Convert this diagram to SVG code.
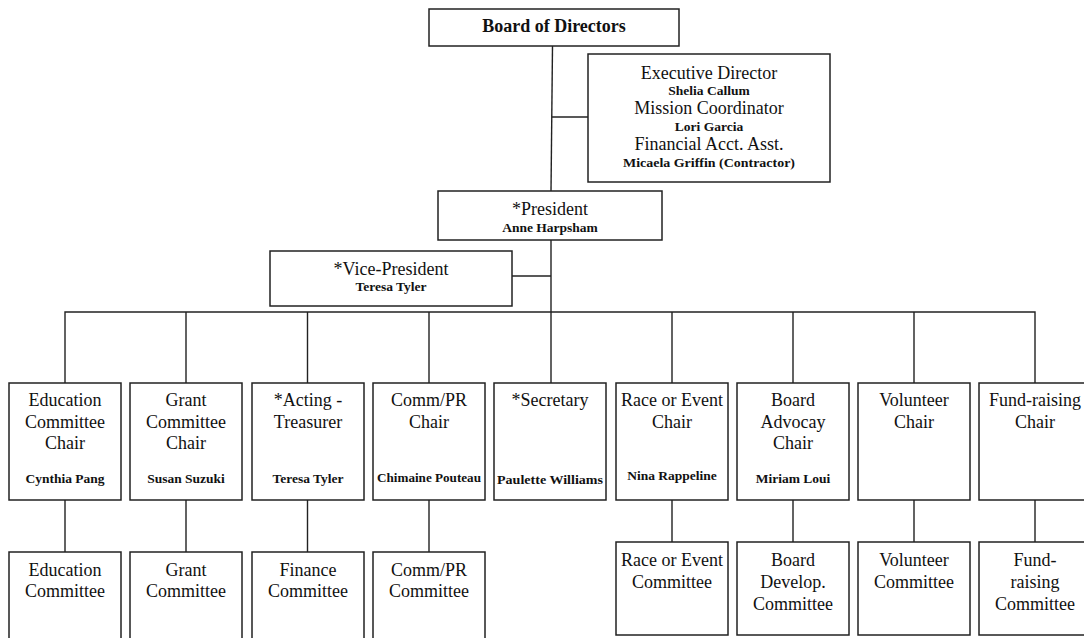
<svg xmlns="http://www.w3.org/2000/svg" width="1084" height="638" viewBox="0 0 1084 638">
<style>
.box{fill:#fff;stroke:#222;stroke-width:1.5}
.ln{stroke:#222;stroke-width:1.4;fill:none}
.t{font-family:"Liberation Serif","Times New Roman",serif;font-size:18px;fill:#111;text-anchor:middle}
.b{font-family:"Liberation Serif","Times New Roman",serif;font-size:13.5px;font-weight:bold;fill:#111;text-anchor:middle}
.h{font-family:"Liberation Serif","Times New Roman",serif;font-size:18px;font-weight:bold;fill:#111;text-anchor:middle}
</style>
<rect width="1084" height="638" fill="#fff"/>
<g id="connectors">
<path class="ln" d="M552.5 46 L551 191"/>
<path class="ln" d="M552 117 H588"/>
<path class="ln" d="M551 240 V312"/>
<path class="ln" d="M512 276 H551"/>
<path class="ln" d="M65 383 V312 H1035 V383"/>
<path class="ln" d="M186 312 V383 M307.5 312 V383 M429 312 V383 M551 312 V383 M672 312 V383 M793 312 V383 M914 312 V383"/>
<path class="ln" d="M65 500 V552 M186 500 V552 M307.5 500 V552 M429 500 V552"/>
<path class="ln" d="M672 500 V542 M793 500 V542 M914 500 V542 M1035 500 V542"/>
</g>
<g id="board"><rect class="box" x="429" y="9" width="250" height="37"/><text class="h" x="554" y="32">Board of Directors</text></g>
<g id="executive"><rect class="box" x="588" y="54" width="242" height="128"/>
<text class="t" x="709" y="79">Executive Director</text>
<text class="b" x="709" y="95">Shelia Callum</text>
<text class="t" x="709" y="114">Mission Coordinator</text>
<text class="b" x="709" y="131">Lori Garcia</text>
<text class="t" x="709" y="150">Financial Acct. Asst.</text>
<text class="b" x="709" y="167" textLength="172" lengthAdjust="spacingAndGlyphs">Micaela Griffin (Contractor)</text></g>
<g id="president"><rect class="box" x="438" y="191" width="224" height="49"/>
<text class="t" x="550" y="215">*President</text><text class="b" x="550" y="232">Anne Harpsham</text></g>
<g id="vice-president"><rect class="box" x="270" y="251" width="242" height="55"/>
<text class="t" x="391" y="275">*Vice-President</text><text class="b" x="391" y="291">Teresa Tyler</text></g>

<g id="chair-education"><rect class="box" x="9" y="383" width="112" height="117"/>
<text class="t" x="65" y="406">Education</text><text class="t" x="65" y="428">Committee</text><text class="t" x="65" y="449">Chair</text><text class="b" x="65" y="483">Cynthia Pang</text></g>
<g id="chair-grant"><rect class="box" x="130" y="383" width="112" height="117"/>
<text class="t" x="186" y="406">Grant</text><text class="t" x="186" y="428">Committee</text><text class="t" x="186" y="449">Chair</text><text class="b" x="186" y="483">Susan Suzuki</text></g>
<g id="chair-treasurer"><rect class="box" x="252" y="383" width="112" height="117"/>
<text class="t" x="308" y="406">*Acting -</text><text class="t" x="308" y="428">Treasurer</text><text class="b" x="308" y="483">Teresa Tyler</text></g>
<g id="chair-commpr"><rect class="box" x="373" y="383" width="112" height="117"/>
<text class="t" x="429" y="406">Comm/PR</text><text class="t" x="429" y="428">Chair</text><text class="b" x="429" y="482" textLength="104" lengthAdjust="spacingAndGlyphs">Chimaine Pouteau</text></g>
<g id="chair-secretary"><rect class="box" x="494" y="383" width="112" height="117"/>
<text class="t" x="550" y="406">*Secretary</text><text class="b" x="550" y="484" textLength="106" lengthAdjust="spacingAndGlyphs">Paulette Williams</text></g>
<g id="chair-race"><rect class="box" x="616" y="383" width="112" height="117"/>
<text class="t" x="672" y="406">Race or Event</text><text class="t" x="672" y="428">Chair</text><text class="b" x="672" y="480">Nina Rappeline</text></g>
<g id="chair-advocacy"><rect class="box" x="737" y="383" width="112" height="117"/>
<text class="t" x="793" y="406">Board</text><text class="t" x="793" y="428">Advocay</text><text class="t" x="793" y="449">Chair</text><text class="b" x="793" y="483">Miriam Loui</text></g>
<g id="chair-volunteer"><rect class="box" x="858" y="383" width="112" height="117"/>
<text class="t" x="914" y="406">Volunteer</text><text class="t" x="914" y="428">Chair</text></g>
<g id="chair-fundraising"><rect class="box" x="979" y="383" width="112" height="117"/>
<text class="t" x="1035" y="406">Fund-raising</text><text class="t" x="1035" y="428">Chair</text></g>

<g id="committee-education"><rect class="box" x="9" y="552" width="112" height="100"/>
<text class="t" x="65" y="576">Education</text><text class="t" x="65" y="597">Committee</text></g>
<g id="committee-grant"><rect class="box" x="130" y="552" width="112" height="100"/>
<text class="t" x="186" y="576">Grant</text><text class="t" x="186" y="597">Committee</text></g>
<g id="committee-finance"><rect class="box" x="252" y="552" width="112" height="100"/>
<text class="t" x="308" y="576">Finance</text><text class="t" x="308" y="597">Committee</text></g>
<g id="committee-commpr"><rect class="box" x="373" y="552" width="112" height="100"/>
<text class="t" x="429" y="576">Comm/PR</text><text class="t" x="429" y="597">Committee</text></g>
<g id="committee-race"><rect class="box" x="616" y="542" width="112" height="93"/>
<text class="t" x="672" y="566">Race or Event</text><text class="t" x="672" y="588">Committee</text></g>
<g id="committee-board"><rect class="box" x="737" y="542" width="112" height="93"/>
<text class="t" x="793" y="566">Board</text><text class="t" x="793" y="588">Develop.</text><text class="t" x="793" y="610">Committee</text></g>
<g id="committee-volunteer"><rect class="box" x="858" y="542" width="112" height="93"/>
<text class="t" x="914" y="566">Volunteer</text><text class="t" x="914" y="588">Committee</text></g>
<g id="committee-fundraising"><rect class="box" x="979" y="542" width="112" height="93"/>
<text class="t" x="1035" y="566">Fund-</text><text class="t" x="1035" y="588">raising</text><text class="t" x="1035" y="610">Committee</text></g>
</svg>
